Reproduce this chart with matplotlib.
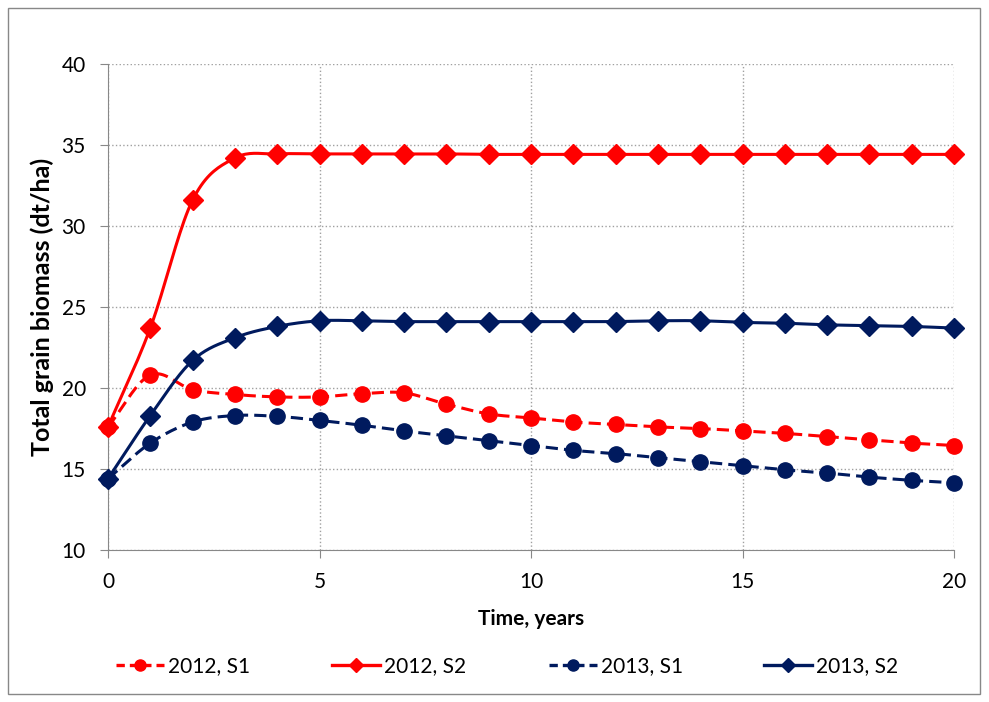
import numpy as np
import matplotlib
matplotlib.use("Agg")
import matplotlib.pyplot as plt
from matplotlib.patches import Rectangle
from matplotlib.lines import Line2D

plt.rcParams['font.family'] = ['Lato', 'DejaVu Sans']

years = list(range(0, 21))
s2012_s1 = [17.6, 20.8, 19.9, 19.6, 19.45, 19.45, 19.65, 19.7, 19.0, 18.4, 18.15,
            17.9, 17.75, 17.6, 17.5, 17.35, 17.2, 17.0, 16.8, 16.6, 16.45]
s2012_s2 = [17.6, 23.7, 31.6, 34.2, 34.45, 34.45, 34.45, 34.45, 34.45, 34.42, 34.42,
            34.42, 34.42, 34.42, 34.42, 34.42, 34.42, 34.42, 34.42, 34.42, 34.42]
s2013_s1 = [14.4, 16.6, 17.9, 18.3, 18.25, 18.0, 17.7, 17.35, 17.05, 16.75, 16.45,
            16.15, 15.95, 15.7, 15.45, 15.2, 14.95, 14.75, 14.5, 14.3, 14.15]
s2013_s2 = [14.4, 18.3, 21.7, 23.1, 23.8, 24.15, 24.15, 24.1, 24.1, 24.1, 24.1,
            24.1, 24.1, 24.15, 24.15, 24.05, 24.0, 23.9, 23.85, 23.8, 23.7]

labels = ['2012, S1', '2012, S2', '2013, S1', '2013, S2']
RED = '#FF0000'
NAVY = '#001A5E'


def smooth(x, y, n=20):
    # Catmull-Rom style smoothing between given points (like Excel smoothed line)
    x = np.asarray(x, float); y = np.asarray(y, float)
    px = np.concatenate([[2 * x[0] - x[1]], x, [2 * x[-1] - x[-2]]])
    py = np.concatenate([[2 * y[0] - y[1]], y, [2 * y[-1] - y[-2]]])
    xs, ys = [], []
    t = np.linspace(0, 1, n, endpoint=False)
    for i in range(1, len(px) - 2):
        p0, p1, p2, p3 = (np.array([px[j], py[j]]) for j in range(i - 1, i + 3))
        c1 = p1 + (p2 - p0) / 6.0
        c2 = p2 - (p3 - p1) / 6.0
        b = ((1 - t) ** 3)[:, None] * p1 + (3 * (1 - t) ** 2 * t)[:, None] * c1 + \
            (3 * (1 - t) * t ** 2)[:, None] * c2 + (t ** 3)[:, None] * p2
        xs.extend(b[:, 0]); ys.extend(b[:, 1])
    xs.append(x[-1]); ys.append(y[-1])
    return np.array(xs), np.array(ys)


fig = plt.figure(figsize=(9.89, 7.02), dpi=100)
fig.patches.append(Rectangle((8 / 989, 8 / 702), 972 / 989, 686 / 702, transform=fig.transFigure,
                             fill=False, edgecolor='#888888', linewidth=1.0))
ax = fig.add_axes([108 / 989, 1 - 550 / 702, (954 - 108) / 989, (550 - 64) / 702])

series = [(s2012_s1, RED, '--', 'o', 11), (s2012_s2, RED, '-', 'D', 10),
          (s2013_s1, NAVY, '--', 'o', 11), (s2013_s2, NAVY, '-', 'D', 10)]
for (vals, col, ls, mk, ms), lab in zip(series, labels):
    sx, sy = smooth(years, vals)
    ax.plot(sx, sy, color=col, linestyle=ls, linewidth=2.2,
            dashes=(4, 2) if ls == '--' else (None, None), zorder=3, clip_on=False)
    ax.plot(years, vals, linestyle='none', marker=mk, markersize=ms, color=col, zorder=4, clip_on=False)

ax.set_xlim(0, 20)
ax.set_ylim(10, 40)
ax.set_xticks([0, 5, 10, 15, 20])
ax.set_yticks([10, 15, 20, 25, 30, 35, 40])
ax.grid(True, color='#A0A0A0', linestyle=':', linewidth=1.0)
ax.set_axisbelow(True)
for s in ['top', 'right']:
    ax.spines[s].set_visible(False)
for s in ['left', 'bottom']:
    ax.spines[s].set_color('#888888')
ax.tick_params(axis='both', labelsize=15, color='#888888', length=6, direction='out')
ax.tick_params(axis='y', pad=10)
ax.tick_params(axis='x', pad=10)
ax.set_xlabel('Time, years', fontsize=15, fontweight='bold', labelpad=12)
ax.set_ylabel('Total grain biomass (dt/ha)', fontsize=18, fontweight='bold', va='center')
ax.yaxis.set_label_coords(-0.078, 0.5)

# legend entries placed along the bottom, one per series
leg_x = [97, 313, 530, 745]
for (vals, col, ls, mk, ms), lab, lx in zip(series, labels, leg_x):
    h = Line2D([0], [0], color=col, linestyle=ls, linewidth=2.4, marker=mk,
               markersize=8 if mk == 'o' else 7, dashes=(2.5, 1.5) if ls == '--' else (None, None))
    leg = fig.legend([h], [lab], loc='center left', bbox_to_anchor=(lx / 989, 1 - 666 / 702),
                     frameon=False, fontsize=15, handlelength=2.3, handletextpad=0.2)

fig.savefig('out.png', dpi=100)
